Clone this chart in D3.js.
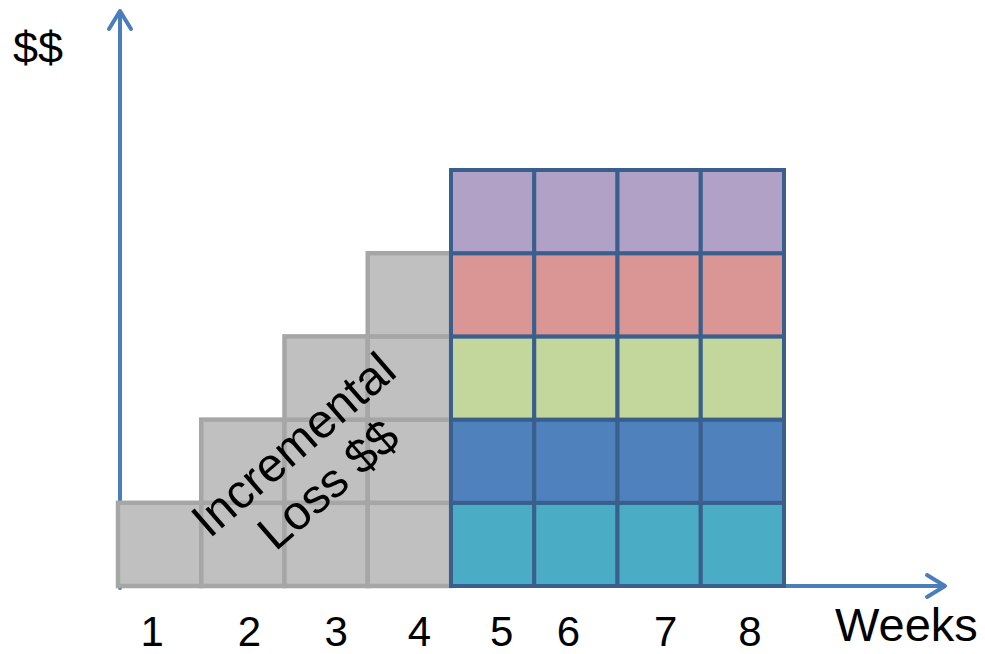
<!DOCTYPE html>
<html>
<head>
<meta charset="utf-8">
<script src="https://cdn.jsdelivr.net/npm/d3@7"></script>
<style>
  body { margin: 0; background: #fff; }
  text { font-family: "Liberation Sans", Arial, sans-serif; fill: #000; }
</style>
</head>
<body>
<div id="chart"></div>
<script>
// weeks along the bottom and where each tick label sits (in week units)
var weeks = ["1", "2", "3", "4", "5", "6", "7", "8"];
var tickPos = [0.41, 1.58, 2.62, 3.62, 4.61, 5.41, 6.58, 7.59];

// grey "incremental loss" blocks for weeks 1-4
var greyWeeks = [0, 1, 2, 3];
var greyCounts = [1, 2, 3, 4];

// coloured stacks for weeks 5-8, bottom to top
var stackWeeks = [4, 5, 6, 7];
var layers = ["l1", "l2", "l3", "l4", "l5"];
var layerColors = ["#4bacc6", "#4f81bd", "#c3d69b", "#d99694", "#b2a1c7"];

var xLabel = "Weeks", yLabel = "$$";
var noteLines = ["Incremental", "Loss $$"];

function create_chart(div_id){
    var width = 985, height = 654;

    var svg = d3.select(div_id).append("svg")
        .attr("width", width)
        .attr("height", height);

    var xScale = d3.scaleLinear().domain([0, 8]).range([118, 784]);
    var yScale = d3.scaleLinear().domain([0, 5]).range([586, 170]);
    var cw = xScale(1) - xScale(0), ch = yScale(0) - yScale(1);

    var axisColor = "#4a7ebb";

    // axes with open arrow heads
    var axes = svg.append("g")
        .attr("stroke", axisColor)
        .attr("stroke-width", 4)
        .attr("fill", "none")
        .attr("stroke-linecap", "round")
        .attr("stroke-linejoin", "round");
    var ax0 = xScale(0) + 2, ay0 = yScale(0);
    axes.append("line").attr("x1", ax0).attr("y1", ay0 + 2).attr("x2", ax0).attr("y2", 12);
    axes.append("polyline").attr("points", [[ax0 - 11, 29], [ax0, 11], [ax0 + 11, 29]].join(" "));
    axes.append("line").attr("x1", ax0 - 2).attr("y1", ay0).attr("x2", 944).attr("y2", ay0);
    axes.append("polyline").attr("points", [[927, ay0 - 11], [945, ay0], [927, ay0 + 11]].join(" "));

    // grey cells
    var greyCells = [];
    greyWeeks.forEach(function(w, i){
        for (var k = 0; k < greyCounts[i]; k++) greyCells.push({w: w, k: k});
    });
    svg.append("g").selectAll("rect")
        .data(greyCells)
        .join("rect")
        .attr("x", function(d){ return xScale(d.w); })
        .attr("y", function(d){ return yScale(d.k + 1); })
        .attr("width", cw)
        .attr("height", ch)
        .attr("fill", "#c0c0c0")
        .attr("stroke", "#a6a6a6")
        .attr("stroke-width", 4.5);

    // coloured stacks
    var stackCells = [];
    stackWeeks.forEach(function(w){
        layers.forEach(function(l, k){ stackCells.push({w: w, k: k}); });
    });
    svg.append("g").selectAll("rect")
        .data(stackCells)
        .join("rect")
        .attr("x", function(d){ return xScale(d.w); })
        .attr("y", function(d){ return yScale(d.k + 1); })
        .attr("width", cw)
        .attr("height", ch)
        .attr("fill", function(d){ return layerColors[d.k]; })
        .attr("stroke", "#3a5f8c")
        .attr("stroke-width", 4);

    // week labels
    svg.append("g").selectAll("text")
        .data(weeks)
        .join("text")
        .attr("x", function(d, i){ return xScale(tickPos[i]); })
        .attr("y", 646)
        .attr("text-anchor", "middle")
        .style("font-size", "42px")
        .text(function(d){ return d; });

    svg.append("text")
        .attr("x", 835).attr("y", 641)
        .style("font-size", "47px")
        .text(xLabel);

    svg.append("text")
        .attr("x", 13).attr("y", 63)
        .style("font-size", "45px")
        .text(yLabel);

    // rotated note
    var note = svg.append("g")
        .attr("transform", "translate(312,466) rotate(-41)");
    note.selectAll("text")
        .data(noteLines)
        .join("text")
        .attr("x", 0)
        .attr("y", function(d, i){ return i === 0 ? -12 : 41; })
        .attr("text-anchor", "middle")
        .style("font-size", "48px")
        .text(function(d){ return d; });
}

create_chart("#chart");
</script>
</body>
</html>
